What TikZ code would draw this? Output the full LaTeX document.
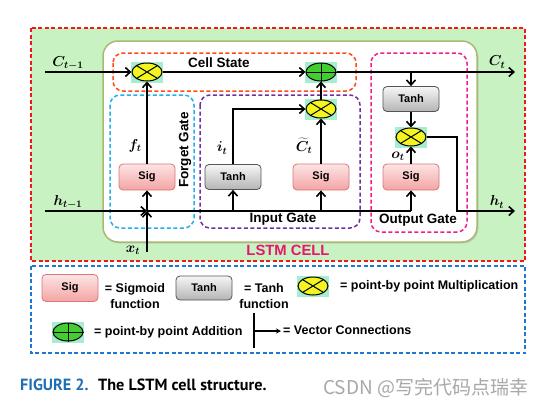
\documentclass[tikz,border=0pt]{standalone}
\usepackage{fontspec}
\setmainfont{Liberation Sans}
\newfontfamily\capfont{PT Sans}
\newfontfamily\cjk{Noto Sans CJK SC}
\usetikzlibrary{arrows.meta,shapes.geometric,shadows}
\definecolor{bggreen}{HTML}{C9F2C3}
\definecolor{outred}{HTML}{F01818}
\definecolor{legblue}{HTML}{1E78D2}
\definecolor{cellborder}{HTML}{A8BA70}
\definecolor{csred}{HTML}{FF4A1A}
\definecolor{fgblue}{HTML}{22B0F0}
\definecolor{igpurple}{HTML}{7030A0}
\definecolor{ogpink}{HTML}{F0208A}
\definecolor{sigtop}{HTML}{FDE4E4}
\definecolor{sigbot}{HTML}{F4A4A4}
\definecolor{sigborder}{HTML}{D87878}
\definecolor{tanhtop}{HTML}{F6F6F6}
\definecolor{tanhbot}{HTML}{B4B4B4}
\definecolor{tanhborder}{HTML}{555555}
\definecolor{muly}{HTML}{F4F420}
\definecolor{addg}{HTML}{44CC33}
\definecolor{aqua}{HTML}{A6EECF}
\definecolor{lstmmag}{HTML}{E8146E}
\definecolor{capblue}{HTML}{1F6EB5}
\definecolor{wmgray}{HTML}{A8A8A8}
\newcommand\opmul[2]{%
  \node[opbg] (#1bg) at (#2) {};
  \node[mul] (#1) at (#2) {};
  \draw[line width=1pt] (#1.north west)--(#1.south east) (#1.north east)--(#1.south west);}
\newcommand\opadd[2]{%
  \node[opbg] (#1bg) at (#2) {};
  \node[addn] (#1) at (#2) {};
  \draw[line width=1pt] (#1.north)--(#1.south) (#1.east)--(#1.west);}
\begin{document}
\begin{tikzpicture}[x=1pt,y=-1pt,
  conn/.style={line width=1.6pt,-{Straight Barb[length=5pt,width=9pt]}},
  wire/.style={line width=1.6pt},
  sigbox/.style={rectangle,rounded corners=4pt,draw=sigborder,line width=0.8pt,
    top color=sigtop,bottom color=sigbot,minimum width=56pt,minimum height=26pt,
    inner sep=0pt,font=\fontsize{11}{11}\selectfont\bfseries},
  tanhbox/.style={rectangle,rounded corners=4pt,draw=tanhborder,line width=0.8pt,
    top color=tanhtop,bottom color=tanhbot,minimum width=56pt,minimum height=25pt,
    inner sep=0pt,font=\fontsize{11}{11}\selectfont\bfseries},
  mul/.style={ellipse,draw,line width=1pt,fill=muly,minimum width=30pt,minimum height=18pt,inner sep=0pt},
  addn/.style={ellipse,draw,line width=1pt,fill=addg,minimum width=30pt,minimum height=18pt,inner sep=0pt},
  opbg/.style={rectangle,fill=aqua,minimum width=32pt,minimum height=21pt,inner sep=0pt},
  gate/.style={rounded corners=10pt,dash pattern=on 4pt off 2.5pt,line width=1.5pt},
  lbl/.style={font=\fontsize{13.5}{13.5}\selectfont\bfseries,inner sep=0pt},
  mlab/.style={font=\fontsize{14}{14}\selectfont\boldmath,inner sep=0pt},
  leg/.style={font=\fontsize{12.5}{15.5}\selectfont\bfseries,align=center,inner sep=0pt},
]
\useasboundingbox (0,0) rectangle (549,408);
\fill[white] (0,0) rectangle (549,408);
% outer boxes
\draw[outred,fill=bggreen,line width=1.5pt,dash pattern=on 4pt off 2.5pt] (31,28) rectangle (525,261);
\draw[legblue,fill=white,line width=1.5pt,dash pattern=on 4pt off 2.5pt] (31,266) rectangle (525,353);
% cell
\draw[cellborder,fill=white,line width=1.5pt,rounded corners=15pt,
  drop shadow={shadow xshift=1.5pt,shadow yshift=-1.5pt,fill=black!30,opacity=0.5}] (103,41) rectangle (477,242);
% gate boxes
\draw[gate,csred] (113,53) rectangle (356,91);
\draw[gate,fgblue] (110,95) rectangle (194,228);
\draw[gate,igpurple] (200,95) rectangle (360,228);
\draw[gate,ogpink] (371,53) rectangle (467,232);
% group labels
\node[lbl] (lcs) at (219,63) {Cell State};
\node[lbl,rotate=90] (lfg) at (185,150) {Forget Gate};
\node[lbl] (lig) at (283,219) {Input Gate};
\node[lbl] (log) at (418,220) {Output Gate};
\node[font=\fontsize{14.8}{14.8}\selectfont\bfseries,text=lstmmag,inner sep=0pt] (lcell) at (288,250) {LSTM CELL};
% operators
\opmul{m1}{147,72}
\opadd{ad}{321,72}
\opmul{m2}{321,109}
\opmul{m3}{411,137}
% function boxes
\node[sigbox] (sigF) at (147,177) {Sig};
\node[tanhbox] (tanhI) at (233,177) {Tanh};
\node[sigbox] (sigI) at (321,177) {Sig};
\node[sigbox] (sigO) at (411,177) {Sig};
\node[tanhbox] (tanhO) at (411,99) {Tanh};
% coordinates
\coordinate (cin) at (45,72);
\coordinate (cout) at (515,72);
\coordinate (tap) at (411,72);
\coordinate (hin) at (45,211);
\coordinate (jF) at (147,211);
\coordinate (jT) at (233,211);
\coordinate (jS) at (321,211);
\coordinate (jO) at (411,211);
\coordinate (xt) at (147,252);
\coordinate (hbend) at (457,211);
\coordinate (hout) at (515,211);
% labels
\node[mlab] (lcin) at (68,63) {$C_{t-1}$};
\node[mlab] (lhin) at (68,202) {$h_{t-1}$};
\node[mlab] (lxt) at (133,250) {$x_t$};
\node[mlab] (lct) at (497,62) {$C_t$};
\node[mlab] (lht) at (497,202) {$h_t$};
\node[mlab] (lft) at (135,146) {$f_t$};
\node[mlab] (lit) at (222,148) {$i_t$};
\node[mlab] (lct2) at (304,146) {$\widetilde{C}_t$};
\node[mlab] (lot) at (398,156) {$o_t$};
% connectors
\draw[conn] (cin) -- (m1.west);
\draw[conn] (m1.east) -- (ad.west);
\draw[conn] (ad.east) -- (cout);
\draw[conn] (tap) -- (tanhO.north);
\draw[conn] (tanhO.south) -- (m3.north);
\draw[conn] (sigO.north) -- (m3.south);
\draw[conn] (m3.east) -| (hbend) -- (hout);
\draw[conn] (hin) -- (jF);
\draw[wire] (jF) -- (jO);
\draw[conn] (xt) -- (jF);
\draw[conn] (jF) -- (sigF.south);
\draw[conn] (jT) -- (tanhI.south);
\draw[conn] (jS) -- (sigI.south);
\draw[conn] (jO) -- (sigO.south);
\draw[conn] (sigF.north) -- (m1.south);
\draw[conn] (tanhI.north) |- (m2.west);
\draw[conn] (sigI.north) -- (m2.south);
\draw[conn] (m2.north) -- (ad.south);
% legend
\node[sigbox,minimum height=27pt] (lgsig) at (70,288) {Sig};
\node[leg] (lgsigt) at (135,296) {= Sigmoid\\function};
\node[tanhbox,minimum height=24pt] (lgtanh) at (204,288) {Tanh};
\node[leg] (lgtanht) at (264,296) {= Tanh\\function};
\opmul{lgmul}{313,286}
\node[leg,anchor=west] (lgmult) at (340,286) {= point-by point Multiplication};
\opadd{lgadd}{68,332}
\node[leg,anchor=west] (lgaddt) at (94,332) {= point-by point Addition};
\coordinate (vtop) at (254,313);
\coordinate (vbot) at (254,348);
\coordinate (vmid) at (254,331);
\coordinate (vend) at (281,331);
\draw[line width=1.2pt] (vtop) -- (vbot);
\draw[line width=1.2pt,-{Stealth[length=5pt,width=5pt]}] (vmid) -- (vend);
\node[leg,anchor=west] (lgvec) at (283,330) {= Vector Connections};
% caption
\node[anchor=west,inner sep=0pt,font=\capfont\bfseries\fontsize{16.2}{16.2}\selectfont,text=capblue] (capa) at (20,385) {FIGURE 2.};
\node[anchor=west,inner sep=0pt,font=\capfont\bfseries\fontsize{16.2}{16.2}\selectfont] (capb) at (98,385) {The LSTM cell structure.};
\node[anchor=west,inner sep=0pt,font=\cjk\fontsize{19}{19}\selectfont,text=wmgray] (wm) at (323,388) {CSDN @写完代码点瑞幸};
\end{tikzpicture}
\end{document}
